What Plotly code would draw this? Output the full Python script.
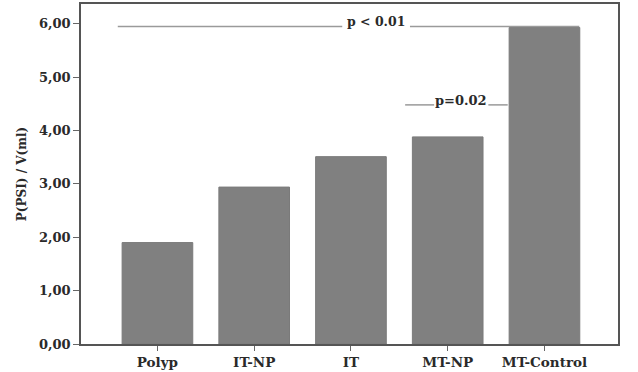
import plotly.graph_objects as go

categories = ["Polyp", "IT-NP", "IT", "MT-NP", "MT-Control"]
values = [1.90, 2.94, 3.51, 3.88, 5.93]
y_ticks = [0, 1, 2, 3, 4, 5, 6]
y_tick_labels = ["0,00", "1,00", "2,00", "3,00", "4,00", "5,00", "6,00"]
sig_labels = ["p < 0.01", "p=0.02"]
sig_levels = [5.95, 4.48]

FONT = "DejaVu Serif"
LINE_C = "#9a9a9a"
TXT_C = "#2a2a2a"

fig = go.Figure()
fig.add_trace(go.Bar(
    x=list(range(len(categories))), y=values,
    marker=dict(color="#808080", line=dict(color="#7a7a7a", width=1)),
    width=0.73,
))

shapes = []
# p < 0.01 bracket
shapes.append(dict(type="line", xref="x", yref="y", x0=-0.41, x1=1.91,
                   y0=sig_levels[0], y1=sig_levels[0], line=dict(color=LINE_C, width=1.5)))
shapes.append(dict(type="line", xref="x", yref="y", x0=2.61, x1=4.36,
                   y0=sig_levels[0], y1=sig_levels[0], line=dict(color=LINE_C, width=1.5)))
# p = 0.02 bracket
shapes.append(dict(type="line", xref="x", yref="y", x0=2.56, x1=2.86,
                   y0=sig_levels[1], y1=sig_levels[1], line=dict(color=LINE_C, width=1.5)))
shapes.append(dict(type="line", xref="x", yref="y", x0=3.42, x1=3.62,
                   y0=sig_levels[1], y1=sig_levels[1], line=dict(color=LINE_C, width=1.5)))

annotations = [
    dict(x=2.26, y=sig_levels[0], xref="x", yref="y", text="<b>" + sig_labels[0] + "</b>",
         showarrow=False, yanchor="bottom", yshift=-5, font=dict(family=FONT, size=12.5, color=TXT_C)),
    dict(x=3.14, y=sig_levels[1], xref="x", yref="y", text="<b>" + sig_labels[1] + "</b>",
         showarrow=False, yanchor="bottom", yshift=-5, font=dict(family=FONT, size=13, color=TXT_C)),
]

fig.update_layout(
    width=638, height=372,
    margin=dict(l=81, r=20, t=4, b=28, autoexpand=False),
    paper_bgcolor="white", plot_bgcolor="white",
    showlegend=False,
    shapes=shapes, annotations=annotations,
    font=dict(family=FONT, size=12, color=TXT_C),
    xaxis=dict(
        range=[-0.79, 4.76],
        tickmode="array", tickvals=list(range(len(categories))),
        ticktext=["<b>" + c + "</b>" for c in categories],
        ticks="outside", ticklen=5, tickcolor="#666",
        showline=True, linecolor="#555", linewidth=1.5, mirror=True,
        showgrid=False, zeroline=False,
        tickfont=dict(family=FONT, size=13.5, color=TXT_C),
    ),
    yaxis=dict(
        range=[0, 6.37],
        tickmode="array", tickvals=y_ticks,
        ticktext=["<b>" + t + "</b>" for t in y_tick_labels],
        ticks="outside", ticklen=6, tickcolor="#666",
        showline=True, linecolor="#555", linewidth=1.5, mirror=True,
        showgrid=False, zeroline=False,
        tickfont=dict(family=FONT, size=13, color=TXT_C),
        title=dict(text="<b>P(PSI) / V(ml)</b>", font=dict(family=FONT, size=12, color=TXT_C), standoff=10),
    ),
)

fig.write_html("out.html", config={"displayModeBar": False},
               post_script="document.body.style.margin='0';")
